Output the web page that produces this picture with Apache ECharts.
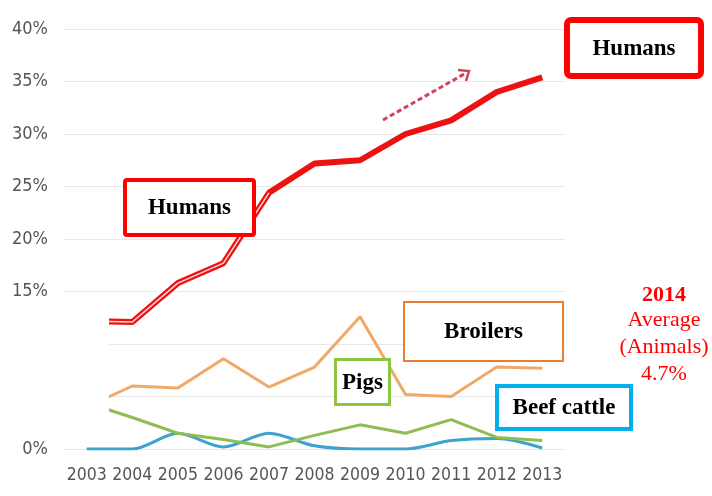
<!DOCTYPE html>
<html><head><meta charset="utf-8">
<script src="https://cdn.jsdelivr.net/npm/echarts@6/dist/echarts.min.js"></script>
<style>html,body{margin:0;padding:0;background:#fff}#c{width:712px;height:496px}</style>
</head><body><div id="c"></div>
<script>
var years = ['2003','2004','2005','2006','2007','2008','2009','2010','2011','2012','2013'];
var humans = [12.2, 12.1, 15.8, 17.7, 24.4, 27.2, 27.5, 30.0, 31.3, 34.0, 35.4];
var broilers = [4.0, 6.0, 5.8, 8.6, 5.9, 7.8, 12.6, 5.2, 5.0, 7.8, 7.7];
var pigs = [4.4, 3.0, 1.5, 0.9, 0.2, 1.3, 2.3, 1.5, 2.8, 1.1, 0.8];
var beef = [0, 0, 1.5, 0.2, 1.5, 0.3, 0, 0, 0.8, 1.0, 0.1];
var humansEarlyEnd = 4; // double-line style up to 2007

var humansEarly = humans.map(function(v,i){ return i <= humansEarlyEnd ? v : null; });

var chart = echarts.init(document.getElementById('c'));
var serif = '"Liberation Serif", "Times New Roman", serif';
var narrow = '"Liberation Sans Narrow", "DejaVu Sans Condensed", sans-serif';
function box(l,t,r,b,color,w,label,fs,radius){
  return [
    {type:'rect', z:100, shape:{x:l+w/2,y:t+w/2,width:r-l-w,height:b-t-w,r:radius||0},
     style:{fill:'#fff', stroke:color, lineWidth:w}},
    {type:'text', z:101, x:(l+r)/2, y:(t+b)/2+1,
     style:{text:label, font:'bold '+fs+'px '+serif, fill:'#000', align:'center', verticalAlign:'middle'}}
  ];
}
var graphics = [].concat(
  [{type:'rect', z:90, shape:{x:0,y:317,width:109,height:98}, style:{fill:'#fff'}}],
  box(564,17,704,79,'#ff0000',6,'Humans',23,4),
  box(123,178,256,237,'#ff0000',4,'Humans',23,2),
  box(403,301,564,362,'#ed7d31',2,'Broilers',23,0),
  box(334,358,391,406,'#8cc63f',3,'Pigs',23,0),
  box(495,384,633,431,'#00b0f0',4,'Beef cattle',23,0),
  [
    {type:'line', z:100, shape:{x1:383,y1:120,x2:466,y2:73}, style:{stroke:'#d5405c', lineWidth:3, lineDash:[5,3]}},
    {type:'polyline', z:100, shape:{points:[[458,70],[469,71],[466,81]]}, style:{stroke:'#d5405c', lineWidth:2.5, fill:null}},
    {type:'text', z:100, x:664, y:295, style:{text:'2014', font:'bold 22px '+serif, fill:'#ff0000', align:'center', verticalAlign:'middle'}},
    {type:'text', z:100, x:664, y:320, style:{text:'Average', font:'22px '+serif, fill:'#ff0000', align:'center', verticalAlign:'middle'}},
    {type:'text', z:100, x:664, y:347, style:{text:'(Animals)', font:'22px '+serif, fill:'#ff0000', align:'center', verticalAlign:'middle'}},
    {type:'text', z:100, x:664, y:374, style:{text:'4.7%', font:'22px '+serif, fill:'#ff0000', align:'center', verticalAlign:'middle'}}
  ]
);

chart.setOption({
  animation:false,
  grid:{left:64, right:147, top:29, bottom:47},
  xAxis:{type:'category', data:years, boundaryGap:true,
    axisLine:{show:false}, axisTick:{show:false},
    axisLabel:{color:'#555', fontSize:17.5, fontFamily:narrow, margin:17, interval:0, hideOverlap:false}},
  yAxis:{type:'value', min:0, max:40, interval:5,
    axisLine:{show:false}, axisTick:{show:false},
    splitLine:{lineStyle:{color:'#e8e8e8', width:1}},
    axisLabel:{color:'#555', fontSize:18, fontFamily:narrow, margin:16,
      formatter:function(v){return v+'%';}}},
  series:[
    {name:'Beef cattle', type:'line', data:beef, symbol:'none', smooth:0.3, z:3,
      lineStyle:{color:'#3fa2cc', width:3}},
    {name:'Pigs', type:'line', data:pigs, symbol:'none', z:4,
      lineStyle:{color:'#8dbd55', width:3}},
    {name:'Broilers', type:'line', data:broilers, symbol:'none', z:5,
      lineStyle:{color:'#f2a866', width:3}},
    {name:'Humans', type:'line', data:humans, symbol:'none', z:6,
      lineStyle:{color:'#ee1111', width:6}},
    {name:'HumansInner', type:'line', data:humansEarly, symbol:'none', z:7,
      lineStyle:{color:'#ffd6d6', width:1.5}}
  ],
  graphic:graphics
});
</script></body></html>
